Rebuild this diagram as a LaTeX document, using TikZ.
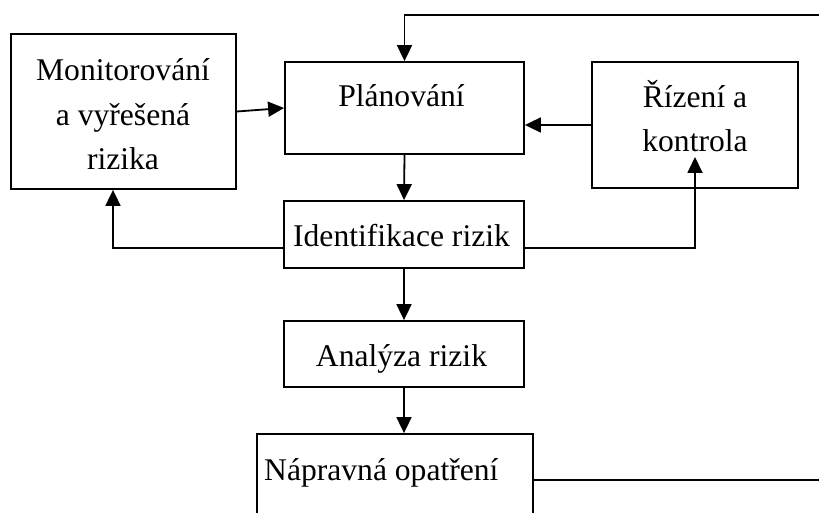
\documentclass[tikz,border=0pt]{standalone}
\usepackage{fontspec}
\setmainfont{Liberation Serif}
\usetikzlibrary{arrows.meta}
\begin{document}
\begin{tikzpicture}[x=1pt,y=-1pt,
  box/.style={draw,line width=1.8pt,rectangle,inner sep=0pt},
  lbl/.style={anchor=base,inner sep=0pt,font=\fontsize{31.6}{38}\selectfont},
  link/.style={line width=1.8pt},
  arr/.style={line width=1.8pt,-{Triangle[length=16pt,width=15pt]}}]
\useasboundingbox (0,0) rectangle (819,513);
\clip (0,0) rectangle (819,513);
% boxes
\node[box,minimum width=225pt,minimum height=155pt] (mon) at (123.5,111.5) {};
\node[box,minimum width=239pt,minimum height=92pt] (plan) at (404.5,108) {};
\node[box,minimum width=206pt,minimum height=126pt] (riz) at (695,125) {};
\node[box,minimum width=240pt,minimum height=67pt] (iden) at (404,234.5) {};
\node[box,minimum width=240pt,minimum height=66pt] (anal) at (404,354) {};
\node[box,minimum width=276pt,minimum height=130pt] (napr) at (395,499) {};
% labels
\node[lbl] (mon1) at (123,81) {Monitorování};
\node[lbl] (mon2) at (123,126) {a vyřešená};
\node[lbl] (mon3) at (123,170) {rizika};
\node[lbl] (planT) at (401.5,107) {Plánování};
\node[lbl] (riz1) at (695,108) {Řízení a};
\node[lbl] (riz2) at (695,152) {kontrola};
\node[lbl] (idenT) at (401.5,247) {Identifikace rizik};
\node[lbl] (analT) at (401.5,366) {Analýza rizik};
\node[lbl,anchor=base west] (naprT) at (264,480) {Nápravná opatření};
% connector end points
\coordinate (topR) at (819,15);
\coordinate (outR) at (819,480);
\coordinate (fbL) at (113,248);
\coordinate (fbR) at (695,248);
\coordinate (rizTip) at (695,157);
% connectors
\draw[arr] (topR) -- (topR -| plan.north) -- (plan.north);
\draw[arr] (mon.east) -- (plan.west);
\draw[arr] (riz.west) -- (plan.east |- riz.west);
\draw[arr] (plan.south) -- (iden.north);
\draw[arr] (iden.west |- fbL) -- (fbL) -- (mon.south -| fbL);
\draw[arr] (iden.east |- fbR) -- (fbR) -- (rizTip);
\draw[arr] (iden.south) -- (anal.north);
\draw[arr] (anal.south) -- (anal.south |- napr.north);
\draw[link] (napr.east |- outR) -- (outR);
\end{tikzpicture}
\end{document}
